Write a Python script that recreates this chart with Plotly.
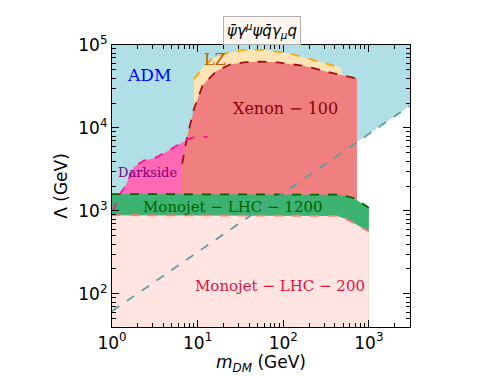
import numpy as np
import plotly.graph_objects as go

# axis limits (GeV)
x_lim = [1.0, 3020.0]
y_lim = [40.0, 1.0e5]

# ADM boundary (dashed diagonal)
adm_m = [1.0, 3020.0]
adm_lam = [62.0, 18600.0]

# LZ
lz_m = [9.1, 11.4, 15.1, 21.8, 34.5, 60.1, 114.6, 219.0, 479.0]
lz_lam = [38700, 53200, 69700, 79800, 87300, 87300, 79800, 66700, 53200]

# Xenon-100
xe_m = [6.55, 6.56, 6.6, 7.2, 7.5, 9.1, 11.4, 16.5, 23.9, 34.5, 54.8, 86.9, 182.0, 380.0, 725.0]
xe_lam = [1500, 2500, 3700, 5800, 7600, 17200, 32400, 48500, 58200, 61700, 63100, 61700, 55600, 45700, 39400]

# Darkside
ds_m = [1.03, 1.25, 1.43, 1.8, 2.38, 3.14, 4.54, 5.98, 7.53, 9.08, 13.1]
ds_lam = [1000, 1640, 1970, 3390, 4070, 4315, 5320, 6310, 7240, 7760, 7830]

# Monojet LHC 1200
mj12_m = [1.0, 10.0, 100.0, 457.0, 661.0, 794.0, 912.0, 1000.0]
mj12_lam = [1600, 1595, 1585, 1570, 1435, 1276, 1148, 1096]

# Monojet LHC 200
mj2_m = [1.0, 10.0, 100.0, 427.0, 550.0, 724.0, 871.0, 1000.0]
mj2_lam = [891, 888, 882, 873, 794, 676, 610, 566]


def region(xs, ys, close_to, fillcolor):
    """closed polygon: curve, then down/up to close_to at the ends"""
    px = list(xs) + [xs[-1], xs[0]]
    py = list(ys) + [close_to, close_to]
    return go.Scatter(x=px, y=py, mode='lines', fill='toself', fillcolor=fillcolor,
                      line=dict(width=0), hoverinfo='skip', showlegend=False)


def dashed(xs, ys, color, width=1.8):
    return go.Scatter(x=xs, y=ys, mode='lines', line=dict(color=color, width=width, dash='dash'),
                      hoverinfo='skip', showlegend=False)


fig = go.Figure()

# ADM: everything above the diagonal
fig.add_trace(go.Scatter(x=adm_m + [adm_m[-1], adm_m[0]], y=adm_lam + [y_lim[1], y_lim[1]],
                         mode='lines', fill='toself', fillcolor='#b0e0e6', line=dict(width=0),
                         hoverinfo='skip', showlegend=False))
fig.add_trace(region(lz_m, lz_lam, 1000, '#ffe4b5'))
fig.add_trace(region(ds_m, ds_lam, 1000, '#ff69b4'))
fig.add_trace(region(xe_m, xe_lam, 1000, '#f08080'))
fig.add_trace(region(mj12_m, mj12_lam, y_lim[0], '#3cb371'))
fig.add_trace(region(mj2_m, mj2_lam, y_lim[0], '#ffe4e1'))

# boundaries
fig.add_trace(dashed(lz_m, lz_lam, '#ffa500'))
fig.add_trace(dashed(xe_m[2:], xe_lam[2:], '#a01010'))
fig.add_trace(dashed(mj2_m, mj2_lam, '#fa8072'))
fig.add_trace(dashed(mj12_m, mj12_lam, '#006400'))
fig.add_trace(dashed(adm_m, adm_lam, '#5f9ea0'))
fig.add_trace(dashed(ds_m, ds_lam, '#ff1493'))

serif = "DejaVu Serif"
labels = [
    ("ADM", 0.433, 4.635, '#0000ff', 17),
    ("LZ", 1.202, 4.82, '#c85a00', 16),
    ("Xenon − 100", 2.03, 4.235, '#8b0000', 16),
    ("Darkside", 0.42, 3.46, '#800080', 13),
    ("Monojet − LHC − 1200", 1.418, 3.047, '#006400', 15),
    ("Monojet − LHC − 200", 1.96, 2.094, '#dc143c', 15),
]
annotations = [
    dict(text=t, x=x, y=y, xref='x', yref='y', showarrow=False,
         font=dict(family=serif, size=s, color=c))
    for t, x, y, c, s in labels
]

# boxed title
annotations.append(dict(
    text="<i>ψ\u0304γ<sup>μ</sup>ψq\u0304γ<sub>μ</sub>q</i>",
    x=0.504, y=1.05, xref='paper', yref='paper', xanchor='center', yanchor='middle',
    showarrow=False,
    font=dict(family="DejaVu Sans", size=15, color='black'),
    bgcolor='#fbf6ef', bordercolor='#b0b0b0', borderwidth=1, borderpad=3,
))

tick_font = dict(family="DejaVu Sans", size=17, color='black')

# page body adds an 8px offset, so the figure is a bit smaller than the window
fig.update_layout(
    width=493, height=368,
    margin=dict(l=104, r=91, t=37, b=34),
    paper_bgcolor='white', plot_bgcolor='white',
    showlegend=False,
    annotations=annotations,
    xaxis=dict(
        type='log', range=[np.log10(x_lim[0]), np.log10(x_lim[1])],
        tickvals=[1, 10, 100, 1000],
        ticktext=["10<sup>0</sup>", "10<sup>1</sup>", "10<sup>2</sup>", "10<sup>3</sup>"],
        ticks='inside', ticklen=7, tickwidth=1, tickcolor='black',
        minor=dict(ticks='inside', ticklen=4, tickcolor='black', dtick='D1', showgrid=False),
        showline=True, linecolor='black', linewidth=1.2, mirror='allticks',
        showgrid=False, zeroline=False, tickfont=tick_font,
        title=dict(text="<i>m</i><sub><i>DM</i></sub> (GeV)", font=tick_font, standoff=0),
    ),
    yaxis=dict(
        type='log', range=[np.log10(y_lim[0]), np.log10(y_lim[1])],
        tickvals=[100, 1000, 10000, 100000],
        ticktext=["10<sup>2</sup>", "10<sup>3</sup>", "10<sup>4</sup>", "10<sup>5</sup>"],
        ticks='inside', ticklen=7, tickwidth=1, tickcolor='black',
        minor=dict(ticks='inside', ticklen=4, tickcolor='black', dtick='D1', showgrid=False),
        showline=True, linecolor='black', linewidth=1.2, mirror='allticks',
        showgrid=False, zeroline=False, tickfont=tick_font,
        title=dict(text="Λ (GeV)", font=tick_font, standoff=6),
    ),
)

fig.write_html("out.html")
